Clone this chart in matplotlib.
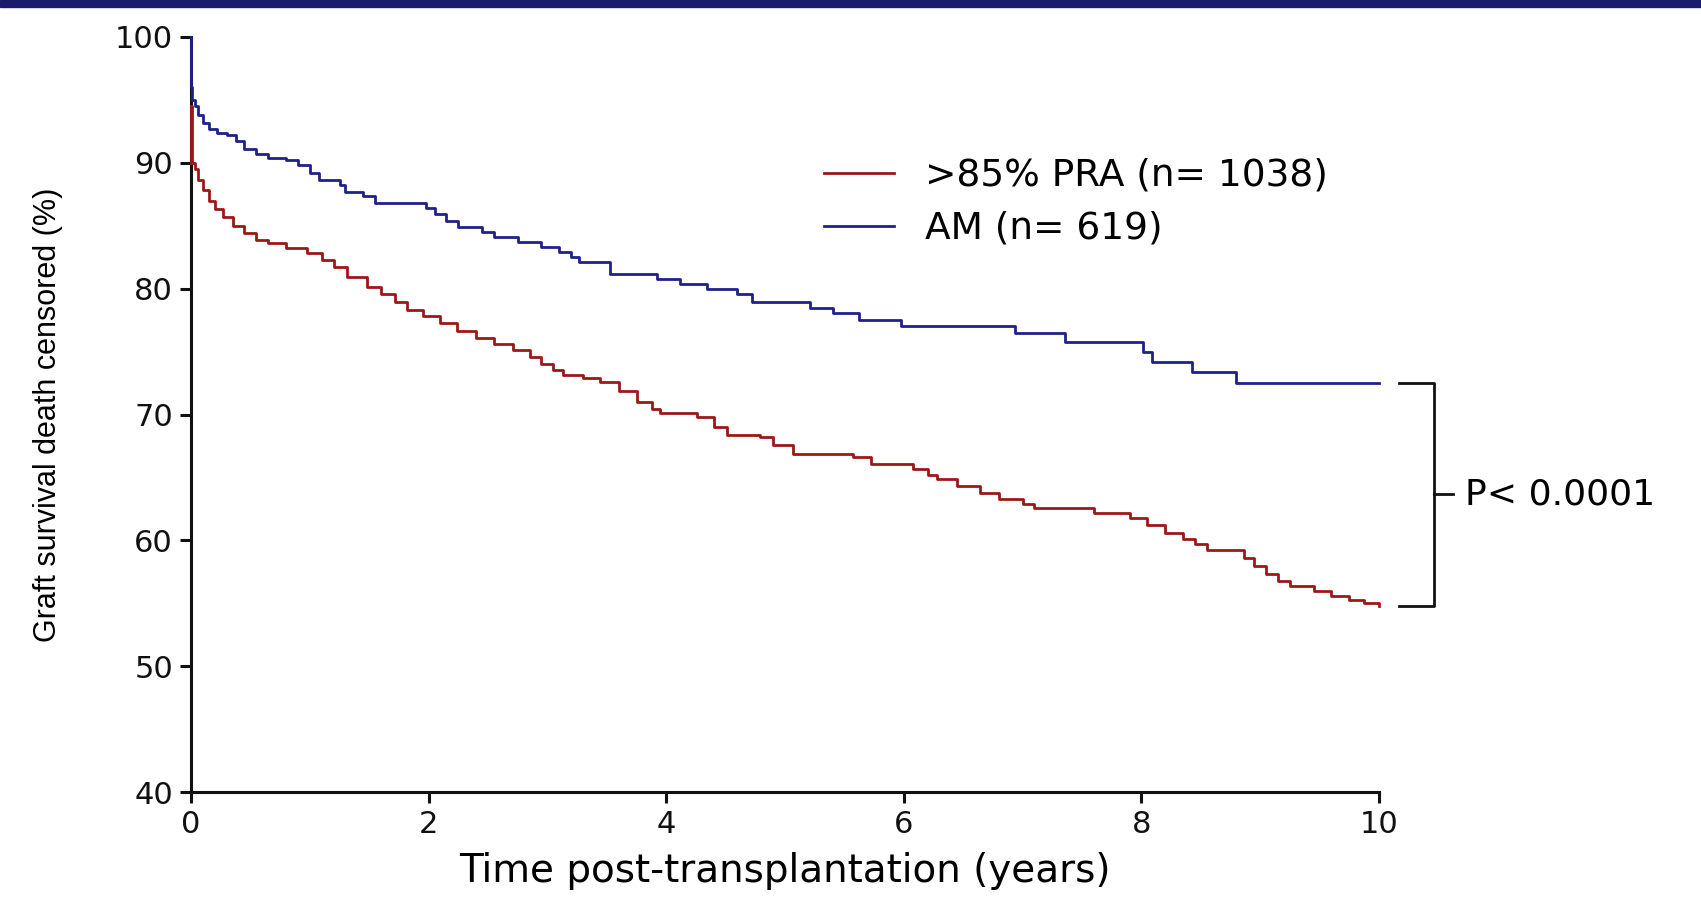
import matplotlib
matplotlib.use("Agg")
import matplotlib.pyplot as plt
from matplotlib.patches import Rectangle

plt.rcParams['font.family'] = ['DejaVu Sans']

# Kaplan-Meier step points: (years, % surviving)
am_t = [0, 0.003, 0.01, 0.03, 0.06, 0.10, 0.15, 0.22, 0.30, 0.38, 0.45, 0.55,
        0.65, 0.80, 0.90, 1.00, 1.08, 1.25, 1.30, 1.45, 1.55, 1.98, 2.05, 2.15,
        2.25, 2.45, 2.55, 2.75, 2.95, 3.10, 3.20, 3.27, 3.53, 3.92, 4.12, 4.34,
        4.60, 4.72, 5.21, 5.40, 5.62, 5.98, 6.94, 7.36, 8.01, 8.09, 8.43, 8.80, 10.0]
am_s = [100, 96.0, 95.0, 94.5, 93.8, 93.2, 92.7, 92.4, 92.2, 91.7, 91.1, 90.7,
        90.4, 90.2, 89.8, 89.2, 88.6, 88.2, 87.7, 87.4, 86.8, 86.4, 85.9, 85.4,
        84.9, 84.5, 84.1, 83.7, 83.3, 82.9, 82.5, 82.1, 81.2, 80.8, 80.4, 80.0,
        79.6, 78.9, 78.5, 78.1, 77.5, 77.05, 76.5, 75.8, 75.0, 74.2, 73.4, 72.5, 72.5]

pra_t = [0, 0.005, 0.01, 0.03, 0.06, 0.10, 0.15, 0.20, 0.27, 0.35, 0.45, 0.55,
         0.65, 0.80, 0.98, 1.10, 1.20, 1.31, 1.48, 1.60, 1.72, 1.82, 1.95, 2.10,
         2.24, 2.40, 2.55, 2.71, 2.85, 2.95, 3.05, 3.13, 3.30, 3.44, 3.60, 3.75,
         3.88, 3.95, 4.26, 4.40, 4.51, 4.79, 4.90, 5.07, 5.57, 5.72, 6.08, 6.20,
         6.28, 6.45, 6.64, 6.80, 7.00, 7.10, 7.60, 7.90, 8.05, 8.20, 8.35, 8.45,
         8.55, 8.86, 8.95, 9.05, 9.15, 9.25, 9.45, 9.60, 9.75, 9.87, 10.0]
pra_s = [94.5, 92.0, 90.0, 89.5, 88.6, 87.8, 87.0, 86.3, 85.7, 85.0, 84.4, 83.9,
         83.6, 83.2, 82.8, 82.3, 81.7, 80.9, 80.1, 79.6, 78.9, 78.3, 77.8, 77.3,
         76.6, 76.1, 75.6, 75.1, 74.6, 74.0, 73.5, 73.1, 72.9, 72.6, 71.9, 71.0,
         70.4, 70.1, 69.8, 69.0, 68.4, 68.2, 67.6, 66.9, 66.6, 66.1, 65.7, 65.2,
         64.9, 64.3, 63.8, 63.3, 62.9, 62.6, 62.2, 61.8, 61.2, 60.6, 60.1, 59.7,
         59.2, 58.6, 58.0, 57.3, 56.8, 56.4, 56.0, 55.6, 55.3, 55.0, 54.8]

labels = [">85% PRA (n= 1038)", "AM (n= 619)"]
p_text = "P< 0.0001"
xticks = [0, 2, 4, 6, 8, 10]
yticks = [40, 50, 60, 70, 80, 90, 100]

fig = plt.figure(figsize=(17.01, 8.97), dpi=100)
# dark band along the top edge
fig.patches.append(Rectangle((0, 0.992), 1, 0.008, transform=fig.transFigure,
                             color='#1b1b6b', zorder=0))

ax = fig.add_axes([0.1123, 0.117, 0.6984, 0.8418])
red = '#9a1818'
blue = '#20208a'
l1, = ax.plot(pra_t, pra_s, drawstyle='steps-post', color=red, lw=2.0,
              clip_on=False, zorder=3)
ax.plot([0, 0], [pra_s[0], 90], color=red, lw=2.0, clip_on=False, zorder=3)
l2, = ax.plot(am_t, am_s, drawstyle='steps-post', color=blue, lw=2.0,
              clip_on=False, zorder=4)

ax.set_xlim(0, 10)
ax.set_ylim(40, 100)
ax.set_xticks(xticks)
ax.set_yticks(yticks)
for s in ['top', 'right']:
    ax.spines[s].set_visible(False)
for s in ['left', 'bottom']:
    ax.spines[s].set_linewidth(2.2)
    ax.spines[s].set_color('#111111')
ax.tick_params(width=2.2, length=8, labelsize=22, colors='#111111', pad=5)

ax.set_xlabel("Time post-transplantation (years)", fontsize=28, va='top')
ax.xaxis.set_label_coords(0.5, -0.08)
ax.set_ylabel("Graft survival death censored (%)", fontsize=22,
              family=['Liberation Sans Narrow', 'Liberation Sans'])
ax.yaxis.set_label_coords(-0.108, 0.5)

ax.legend([l1, l2], labels, loc='upper left', bbox_to_anchor=(0.533, 0.84),
          frameon=False, fontsize=27, handlelength=1.85, handletextpad=0.85,
          labelspacing=0.45, borderpad=0, borderaxespad=0)

# bracket between the two end values with the p-value
top, bot = am_s[-1], pra_s[-1]
mid = (top + bot) / 2
kw = dict(color='#111111', lw=2.0, clip_on=False)
ax.plot([10.17, 10.46, 10.46, 10.17], [top, top, bot, bot], **kw)
ax.plot([10.46, 10.62], [mid, mid], **kw)
ax.text(10.72, mid, p_text, fontsize=26, va='center', ha='left')

fig.savefig("out.png", dpi=100)
